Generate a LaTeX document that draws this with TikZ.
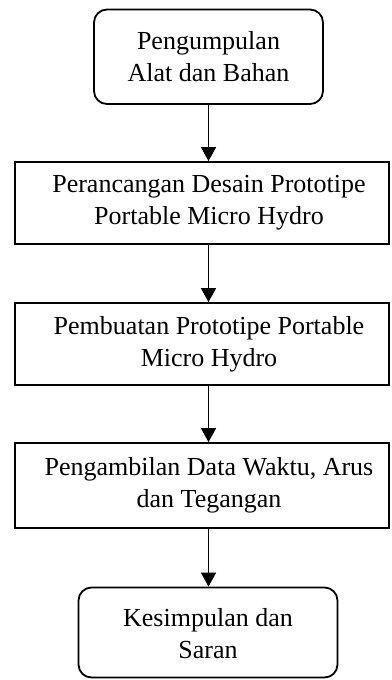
\documentclass[tikz,border=0pt]{standalone}
\usepackage{fontspec}
\setmainfont{Liberation Serif}
\usetikzlibrary{arrows.meta}
\begin{document}
\begin{tikzpicture}[x=1pt,y=-1pt,
  rbox/.style={draw, line width=1.8pt, rounded corners=13pt, inner sep=0pt},
  sbox/.style={draw, line width=1.8pt, inner sep=0pt},
  lbl/.style={align=center, font=\fontsize{26pt}{32pt}\selectfont, inner sep=0pt},
  flow/.style={line width=1.5pt, -{Triangle[width=15pt,length=14pt]}}]
\useasboundingbox[fill=white] (0,0) rectangle (391,680);
% top rounded box
\node[rbox, minimum width=229pt, minimum height=94.5pt] (b1) at (208.5,56.75) {};
\node[lbl] (t1) at (208.5,56.75) {Pengumpulan\\Alat dan Bahan};
% rectangles
\node[sbox, minimum width=374pt, minimum height=82pt] (b2) at (202,203) {};
\node[lbl] (t2) at (209,203) {Perancangan Desain Prototipe\\Portable Micro Hydro};
\node[sbox, minimum width=374pt, minimum height=82pt] (b3) at (202,344) {};
\node[lbl] (t3) at (209,344) {Pembuatan Prototipe Portable\\Micro Hydro};
\node[sbox, minimum width=374pt, minimum height=85pt] (b4) at (202,485.5) {};
\node[lbl] (t4) at (209,485.5) {Pengambilan Data Waktu, Arus\\dan Tegangan};
% bottom rounded box
\node[rbox, minimum width=259pt, minimum height=90pt] (b5) at (208,632.5) {};
\node[lbl] (t5) at (208,634) {Kesimpulan dan\\Saran};
% arrows
\draw[flow] (b1.south) -- (b1.south |- b2.north);
\draw[flow] (b1.south |- b2.south) -- (b1.south |- b3.north);
\draw[flow] (b1.south |- b3.south) -- (b1.south |- b4.north);
\draw[flow] (b1.south |- b4.south) -- (b1.south |- b5.north);
\end{tikzpicture}
\end{document}
